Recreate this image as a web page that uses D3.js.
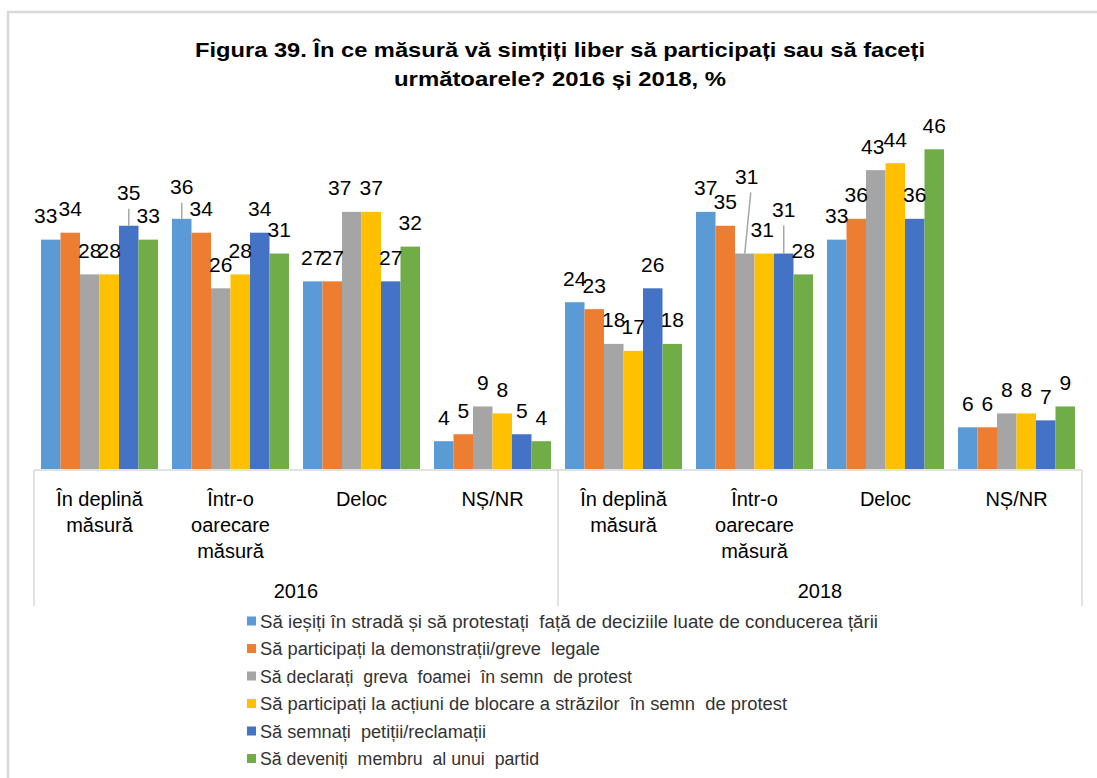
<!DOCTYPE html>
<html>
<head>
<meta charset="utf-8">
<script src="https://cdn.jsdelivr.net/npm/d3@7"></script>
<style>
  html, body { margin: 0; padding: 0; background: #fff; }
  svg { display: block; font-family: "Liberation Sans", Arial, sans-serif; }
  .pre { white-space: pre; }
</style>
</head>
<body>
<svg id="chart" width="1097" height="778"></svg>
<script>
// ---------- DATA ----------
const titleLines = [
  "Figura 39. În ce măsură vă simțiți liber să participați sau să faceți",
  "următoarele? 2016 și 2018, %"
];
const years = ["2016", "2018"];
const responses = ["În deplină măsură", "Într-o oarecare măsură", "Deloc", "NȘ/NR"];
const responseLabelLines = [["În deplină", "măsură"], ["Într-o", "oarecare", "măsură"], ["Deloc"], ["NȘ/NR"]];
const seriesNames = [
  "Să ieșiți în stradă și să protestați  față de deciziile luate de conducerea țării",
  "Să participați la demonstrații/greve  legale",
  "Să declarați  greva  foamei  în semn  de protest",
  "Să participați la acțiuni de blocare a străzilor  în semn  de protest",
  "Să semnați  petiții/reclamații",
  "Să deveniți  membru  al unui  partid"
];
// values per series: 2016 (4 responses) then 2018 (4 responses)
const iesitiStrada   = [33, 36, 27, 4,  24, 37, 33, 6];
const demonstratii   = [34, 34, 27, 5,  23, 35, 36, 6];
const grevaFoamei    = [28, 26, 37, 9,  18, 31, 43, 8];
const blocareStrazi  = [28, 28, 37, 8,  17, 31, 44, 8];
const petitii        = [35, 34, 27, 5,  26, 31, 36, 7];
const membruPartid   = [33, 31, 32, 4,  18, 28, 46, 9];
const seriesValues = [iesitiStrada, demonstratii, grevaFoamei, blocareStrazi, petitii, membruPartid];

// ---------- STYLE / LAYOUT ----------
const colors = ["#5B9BD5", "#ED7D31", "#A5A5A5", "#FFC000", "#4472C4", "#70AD47"];
// manual label nudges (group index, series index) -> [dx, dy, leader]
const labelNudges = {
  "0-0": [-5, 0, false],
  "0-4": [0, -9, true],
  "1-0": [0, -8, true],
  "2-2": [-12, 0, false],
  "5-2": [2, -53, true],
  "5-3": [-2, 0, false],
  "5-4": [0, -20, true],
  "6-2": [-3, 0, false]
};
const legendWidths = [618, 340, 372, 527, 226, 279];

const svg = d3.select("#chart");
const W = 1097, H = 778;
const left = 34, right = 1082, baseY = 469;

svg.append("rect").attr("width", W).attr("height", H).attr("fill", "#fff");
svg.append("rect").attr("x", 8).attr("y", 12).attr("width", W + 20).attr("height", H + 20)
  .attr("fill", "none").attr("stroke", "#d9d9d9").attr("stroke-width", 2.5);

// Title
const title = svg.append("g");
titleLines.forEach((t, i) => {
  title.append("text")
    .attr("x", 560).attr("y", 57 + i * 29)
    .attr("text-anchor", "middle")
    .attr("font-weight", "bold").attr("font-size", 21).attr("fill", "#000")
    .attr("textLength", i === 0 ? 730 : 332).attr("lengthAdjust", "spacingAndGlyphs")
    .text(t);
});

// Scales
const groups = d3.range(years.length * responses.length);
const x0 = d3.scaleBand().domain(groups).range([left, right]).paddingInner(0.107).paddingOuter(0.0535);
const x1 = d3.scaleBand().domain(d3.range(seriesNames.length)).range([0, x0.bandwidth()]);
const y = d3.scaleLinear().domain([0, 50]).range([baseY, baseY - 347.5]);

// Bars
const flat = [];
groups.forEach(g => seriesValues.forEach((vals, s) => flat.push({ g, s, v: vals[g] })));

svg.append("g").selectAll("rect").data(flat).join("rect")
  .attr("x", d => x0(d.g) + x1(d.s))
  .attr("width", x1.bandwidth())
  .attr("y", d => y(d.v))
  .attr("height", d => y(0) - y(d.v))
  .attr("fill", d => colors[d.s]);

// Axis lines
const axisG = svg.append("g").attr("stroke", "#d9d9d9").attr("stroke-width", 1.5);
axisG.append("line").attr("x1", left).attr("x2", right).attr("y1", baseY + 1).attr("y2", baseY + 1);
[left, (left + right) / 2, right].forEach(xx => {
  axisG.append("line").attr("x1", xx).attr("x2", xx).attr("y1", baseY + 1).attr("y2", 606);
});

// Data labels + leader lines
const lab = svg.append("g");
flat.forEach(d => {
  const key = d.g + "-" + d.s;
  const nudge = labelNudges[key] || [0, 0, false];
  const cx = x0(d.g) + x1(d.s) + x1.bandwidth() / 2;
  const top = y(d.v);
  const lx = cx + nudge[0];
  const ly = top - 24 + nudge[1]; // label visual centre
  if (nudge[2]) {
    lab.append("line")
      .attr("x1", lx + (nudge[0] ? 4 : 0)).attr("y1", ly + 16)
      .attr("x2", cx).attr("y2", top)
      .attr("stroke", "#a6a6a6").attr("stroke-width", 1.5);
  }
  lab.append("text")
    .attr("x", lx).attr("y", ly + 7.5)
    .attr("text-anchor", "middle")
    .attr("font-size", 21).attr("fill", "#000")
    .text(d.v);
});

// Category labels
const cat = svg.append("g").attr("font-size", 20).attr("fill", "#000").attr("text-anchor", "middle");
groups.forEach(g => {
  const lines = responseLabelLines[g % responses.length];
  const cx = x0(g) + x0.bandwidth() / 2;
  lines.forEach((ln, i) => {
    cat.append("text").attr("x", cx).attr("y", 506 + i * 26).text(ln);
  });
});
years.forEach((yr, i) => {
  const gs = groups.filter(g => Math.floor(g / responses.length) === i);
  const cx = (x0(gs[0]) + x0(gs[gs.length - 1]) + x0.bandwidth()) / 2;
  cat.append("text").attr("x", cx).attr("y", 598).text(yr);
});

// Legend
const leg = svg.append("g");
seriesNames.forEach((n, i) => {
  const ly = 621 + i * 27.5;
  leg.append("rect").attr("x", 247).attr("y", ly - 4.5).attr("width", 9).attr("height", 9).attr("fill", colors[i]);
  leg.append("text").attr("class", "pre")
    .attr("x", 260).attr("y", ly + 6.5).attr("font-size", 18).attr("fill", "#333")
    .attr("textLength", legendWidths[i]).attr("lengthAdjust", "spacingAndGlyphs")
    .text(n);
});
</script>
</body>
</html>
